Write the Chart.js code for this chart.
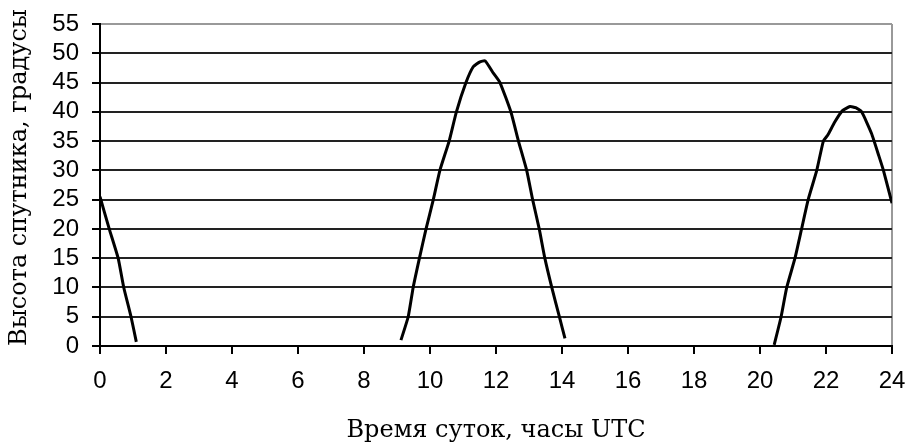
<!DOCTYPE html>
<html>
<head>
<meta charset="utf-8">
<script src="https://cdn.jsdelivr.net/npm/chart.js@4"></script>
<style>
  html, body { margin: 0; padding: 0; background: #fff; }
  #wrap { width: 906px; height: 446px; }
</style>
</head>
<body>
<div id="wrap"><canvas id="chart" width="906" height="446"></canvas></div>
<script>
// satellite elevation over one day, three passes
const pass1Hours = [0, 0.28, 0.55, 0.72, 0.94, 1.1];
const pass1Elev  = [25.5, 20, 15, 10, 5, 0.7];

const pass2Hours = [9.12, 9.34, 9.49, 9.68, 9.88, 10.1, 10.3, 10.58, 10.8, 11.09, 11.31, 11.5, 11.67, 11.92, 12.12, 12.45, 12.68, 12.93, 13.11, 13.31, 13.48, 13.69, 13.92, 14.09];
const pass2Elev  = [1, 5, 10, 15, 20, 25, 30, 35, 40, 45, 47.7, 48.5, 48.7, 46.6, 45, 40, 35, 30, 25, 20, 15, 10, 5, 1.3];

const pass3Hours = [20.43, 20.64, 20.81, 21.06, 21.26, 21.46, 21.72, 21.92, 22.05, 22.27, 22.5, 22.73, 22.9, 23.08, 23.38, 23.6, 23.74, 24];
const pass3Elev  = [0.2, 5, 10, 15, 20, 25, 30, 35, 36, 38.3, 40.2, 40.9, 40.7, 40, 36.3, 32.5, 30, 24.4];

const xTicksMin = 0, xTicksMax = 24, xStep = 2;
const yTicksMin = 0, yTicksMax = 55, yStep = 5;

const xTitle = 'Время суток, часы UTC';
const yTitle = 'Высота спутника, градусы';

const toPoints = (hs, vs) => hs.map((h, i) => ({ x: h, y: vs[i] }));

const lineStyle = {
  borderColor: '#000',
  borderWidth: 3,
  pointRadius: 0,
  tension: 0.15,
  fill: false,
  showLine: true,
};

const tickFont = { family: "'Liberation Sans', sans-serif", size: 24 };
const titleFont = { family: "'DejaVu Serif', serif", size: 24 };

new Chart(document.getElementById('chart'), {
  type: 'scatter',
  data: {
    datasets: [
      { data: toPoints(pass1Hours, pass1Elev), ...lineStyle },
      { data: toPoints(pass2Hours, pass2Elev), ...lineStyle },
      { data: toPoints(pass3Hours, pass3Elev), ...lineStyle },
    ],
  },
  options: {
    responsive: false,
    animation: false,
    layout: { padding: { top: 24, right: 14, left: 0, bottom: 0 } },
    plugins: {
      legend: { display: false },
      tooltip: { enabled: false },
    },
    scales: {
      x: {
        type: 'linear',
        min: xTicksMin,
        max: xTicksMax,
        afterFit: (s) => { s.height = 100; s.paddingLeft = 0; s.paddingRight = 0; },
        ticks: { stepSize: xStep, color: '#000', font: tickFont, padding: 13, maxRotation: 0, autoSkip: false },
        grid: {
          color: (c) => (c.tick && c.tick.value === xTicksMax ? '#999' : 'rgba(0,0,0,0)'),
          tickColor: '#000',
          tickLength: 8,
          lineWidth: 2,
        },
        border: { display: true, color: '#000', width: 2 },
        title: { display: true, text: xTitle, color: '#000', font: titleFont, padding: { top: 0, bottom: 1 } },
      },
      y: {
        min: yTicksMin,
        max: yTicksMax,
        afterFit: (s) => { s.width = 100; s.paddingTop = 0; s.paddingBottom = 0; },
        ticks: { stepSize: yStep, color: '#000', font: tickFont, padding: 13, autoSkip: false },
        grid: {
          color: (c) => (c.tick && c.tick.value === yTicksMax ? '#999' : '#222'),
          tickColor: '#000',
          tickLength: 8,
          lineWidth: 2,
        },
        border: { display: true, color: '#000', width: 2 },
        title: { display: true, text: yTitle, align: 'start', color: '#000', font: titleFont, padding: { top: 5, bottom: 0 } },
      },
    },
  },
});
</script>
</body>
</html>
